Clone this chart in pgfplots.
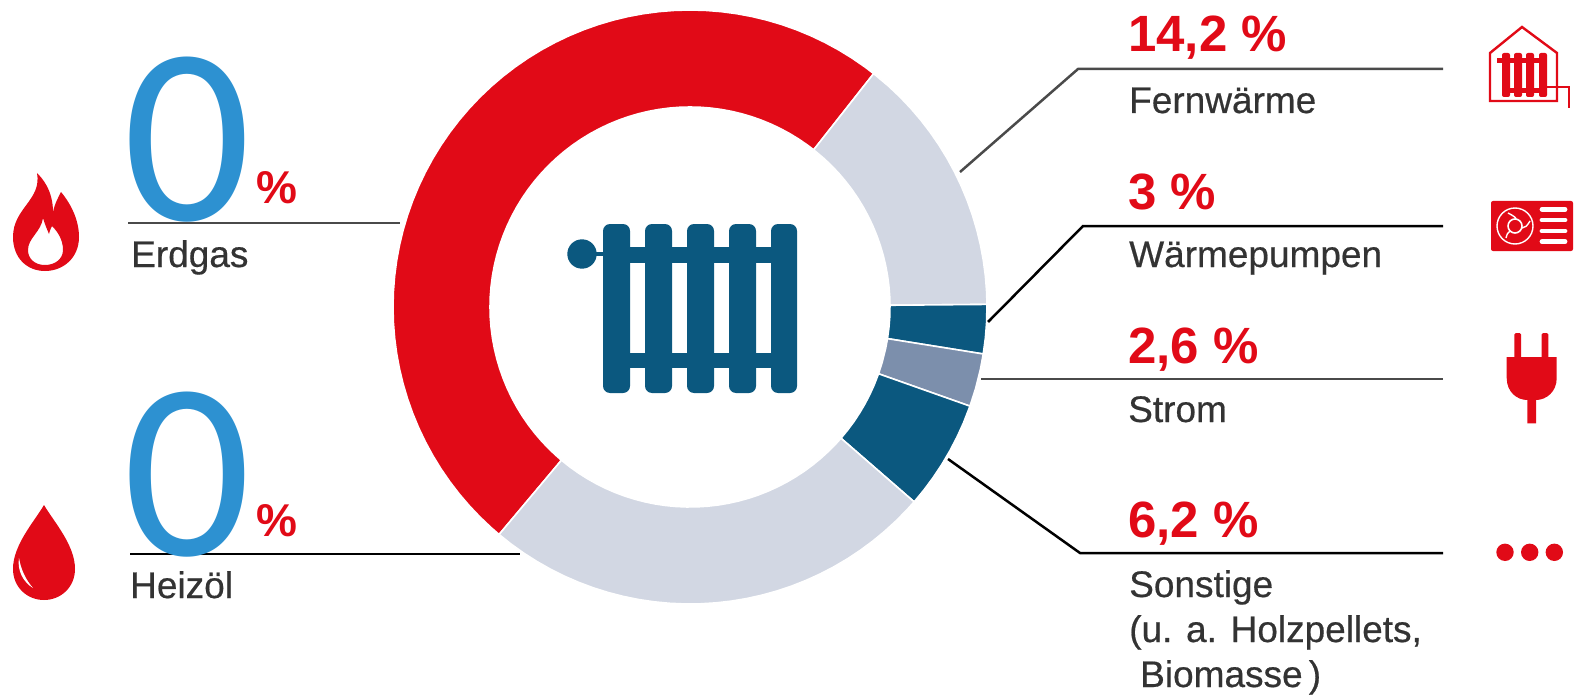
\documentclass[border=0pt]{standalone}
\usepackage{fontspec}
\usepackage{pgfplots}
\pgfplotsset{compat=1.18}
\usepgfplotslibrary{polar}
\setmainfont{Liberation Sans}
\newfontfamily\zerofont{Carlito}
\newfontfamily\namefont[FakeBold=0.5]{Liberation Sans}
\definecolor{rot}{HTML}{E10A17}
\definecolor{hell}{HTML}{D2D7E3}
\definecolor{dunkel}{HTML}{0B587F}
\definecolor{mittel}{HTML}{7C8FAC}
\definecolor{nullblau}{HTML}{2D91D1}
\definecolor{textgrau}{HTML}{333333}
\definecolor{linie}{HTML}{4A4A4A}
\newcommand{\wert}[3]{\node[anchor=base west,inner sep=0pt,text=rot,font=\fontsize{51}{51}\selectfont\bfseries] at (axis cs:#1,#2) {#3};}
\newcommand{\name}[3]{\node[anchor=base west,inner sep=0pt,text=textgrau,font=\namefont\fontsize{37}{37}\selectfont] at (axis cs:#1,#2) {#3};}
\begin{document}
\begin{tikzpicture}
  \path[use as bounding box] (0,0) rectangle (1579pt,695pt);
  % ring: (angle, radius)
  \begin{polaraxis}[
      at={(393pt,91pt)}, anchor=south west,
      scale only axis, width=594pt, height=594pt,
      xmin=0, xmax=360, ymin=0, ymax=297,
      hide axis, clip=false,
      every axis plot/.append style={no markers, sharp plot, draw=white, line width=1.6pt},
  ]
  % Erdgas
  \addplot[fill=rot] coordinates {
    (51.8,297)(54,297)(57,297)(60,297)(63,297)(66,297)(69,297)(72,297)(75,297)(78,297)(81,297)(84,297)(87,297)(90,297)
    (93,297)(96,297)(99,297)(102,297)(105,297)(108,297)(111,297)(114,297)(117,297)(120,297)(123,297)(126,297)(129,297)
    (132,297)(135,297)(138,297)(141,297)(144,297)(147,297)(150,297)(153,297)(156,297)(159,297)(162,297)(165,297)
    (168,297)(171,297)(174,297)(177,297)(180,297)(183,297)(186,297)(189,297)(192,297)(195,297)(198,297)(201,297)
    (204,297)(207,297)(210,297)(213,297)(216,297)(219,297)(222,297)(225,297)(228,297)(230,297)
    (230,200)(228,200)(225,200)(222,200)(219,200)(216,200)(213,200)(210,200)(207,200)(204,200)(201,200)(198,200)
    (195,200)(192,200)(189,200)(186,200)(183,200)(180,200)(177,200)(174,200)(171,200)(168,200)(165,200)(162,200)
    (159,200)(156,200)(153,200)(150,200)(147,200)(144,200)(141,200)(138,200)(135,200)(132,200)(129,200)(126,200)
    (123,200)(120,200)(117,200)(114,200)(111,200)(108,200)(105,200)(102,200)(99,200)(96,200)(93,200)(90,200)
    (87,200)(84,200)(81,200)(78,200)(75,200)(72,200)(69,200)(66,200)(63,200)(60,200)(57,200)(54,200)(51.8,200)
  } -- cycle;
  % Fernwaerme
  \addplot[fill=hell] coordinates {
    (0.5,297)(3,297)(6,297)(9,297)(12,297)(15,297)(18,297)(21,297)(24,297)(27,297)(30,297)(33,297)(36,297)(39,297)
    (42,297)(45,297)(48,297)(51.8,297)
    (51.8,200)(48,200)(45,200)(42,200)(39,200)(36,200)(33,200)(30,200)(27,200)(24,200)(21,200)(18,200)(15,200)
    (12,200)(9,200)(6,200)(3,200)(0.5,200)
  } -- cycle;
  % Waermepumpen
  \addplot[fill=dunkel] coordinates {
    (-9.1,297)(-6,297)(-3,297)(0.5,297)(0.5,200)(-3,200)(-6,200)(-9.1,200)
  } -- cycle;
  % Strom
  \addplot[fill=mittel] coordinates {
    (-19.5,297)(-16,297)(-12,297)(-9.1,297)(-9.1,200)(-12,200)(-16,200)(-19.5,200)
  } -- cycle;
  % Sonstige
  \addplot[fill=dunkel] coordinates {
    (-41,297)(-38,297)(-35,297)(-32,297)(-29,297)(-26,297)(-23,297)(-19.5,297)
    (-19.5,200)(-23,200)(-26,200)(-29,200)(-32,200)(-35,200)(-38,200)(-41,200)
  } -- cycle;
  % Heizoel
  \addplot[fill=hell] coordinates {
    (230,297)(233,297)(236,297)(239,297)(242,297)(245,297)(248,297)(251,297)(254,297)(257,297)(260,297)(263,297)
    (266,297)(269,297)(272,297)(275,297)(278,297)(281,297)(284,297)(287,297)(290,297)(293,297)(296,297)(299,297)
    (302,297)(305,297)(308,297)(311,297)(314,297)(317,297)(319,297)
    (319,200)(317,200)(314,200)(311,200)(308,200)(305,200)(302,200)(299,200)(296,200)(293,200)(290,200)(287,200)
    (284,200)(281,200)(278,200)(275,200)(272,200)(269,200)(266,200)(263,200)(260,200)(257,200)(254,200)(251,200)
    (248,200)(245,200)(242,200)(239,200)(236,200)(233,200)(230,200)
  } -- cycle;
  \end{polaraxis}

  \begin{axis}[
      at={(0pt,0pt)}, anchor=south west,
      scale only axis, width=1579pt, height=695pt,
      xmin=0, xmax=1579, ymin=0, ymax=695, y dir=reverse,
      hide axis, clip=false,
      cycle list={{color=linie,solid}},
      every axis plot/.append style={no markers, line width=2.5pt},
  ]
  % leader lines
  \addplot coordinates {(128,223)(400,223)};
  \addplot coordinates {(130,554)(520,554)};
  \addplot coordinates {(960,172)(1078,69)(1443,69)};
  \addplot coordinates {(988,322)(1083,226)(1443,226)};
  \addplot coordinates {(981,379)(1443,379)};
  \addplot coordinates {(948,459)(1080,553)(1443,553)};

  % big zeros and small percent signs
  \node[anchor=base west,inner sep=0pt,text depth=0pt,text=nullblau,font=\zerofont\fontsize{252}{252}\selectfont] at (axis cs:123,220) {0};
  \node[anchor=base west,inner sep=0pt,text depth=0pt,text=nullblau,font=\zerofont\fontsize{252}{252}\selectfont] at (axis cs:123,555) {0};
  \node[anchor=base west,inner sep=0pt,text=rot,font=\fontsize{46}{46}\selectfont\bfseries] at (axis cs:256,204) {\%};
  \node[anchor=base west,inner sep=0pt,text=rot,font=\fontsize{46}{46}\selectfont\bfseries] at (axis cs:256,536) {\%};

  \name{131}{267}{Erdgas}
  \name{130}{598}{Heizöl}

  \wert{1128}{52}{14,2 \%}
  \wert{1128}{210}{3 \%}
  \wert{1128}{363}{2,6 \%}
  \wert{1128}{537}{6,2 \%}
  \name{1129}{113}{Fernwärme}
  \name{1129}{267}{Wärmepumpen}
  \name{1128}{422}{Strom}
  \name{1129}{597}{Sonstige}
  \name{1129}{642}{(u. a. Holzpellets,}
  \name{1140}{687}{Biomasse\,)}

  % icons, in picture pixels
  \begin{scope}[shift={(axis cs:0,0)}, x=1pt, y=-1pt]
    % radiator in the middle
    \fill[dunkel,rounded corners=7pt] (603,224) rectangle (630,393);
    \fill[dunkel,rounded corners=7pt] (645,224) rectangle (672,393);
    \fill[dunkel,rounded corners=7pt] (687,224) rectangle (714,393);
    \fill[dunkel,rounded corners=7pt] (729,224) rectangle (756,393);
    \fill[dunkel,rounded corners=7pt] (771,224) rectangle (797,393);
    \fill[dunkel] (610,247) rectangle (790,263);
    \fill[dunkel] (610,353) rectangle (790,368);
    \fill[dunkel] (582,252) rectangle (606,256);
    \fill[dunkel] (582,254) circle (14.7);
    % flame
    \fill[rot,even odd rule] (37,173) .. controls (42,178) and (53,190) .. (53,212)
      .. controls (55,203) and (58,198) .. (61,192)
      .. controls (71,204) and (79,220) .. (79,237)
      .. controls (79,258) and (63,271) .. (45,271)
      .. controls (27,271) and (13,258) .. (13,237)
      .. controls (13,208) and (42,200) .. (37,173) -- cycle
      (43,218) .. controls (45,225) and (47,229) .. (49,234)
      .. controls (50,230) and (51,228) .. (52,226)
      .. controls (58,232) and (63,240) .. (63,250)
      .. controls (63,259) and (55,265) .. (45,265)
      .. controls (35,265) and (28,259) .. (28,250)
      .. controls (28,238) and (41,232) .. (43,218) -- cycle;
    % drop
    \fill[rot] (44,505) .. controls (34,522) and (13,545) .. (13,569)
      .. controls (13,587) and (27,600) .. (44,600)
      .. controls (61,600) and (75,587) .. (75,569)
      .. controls (75,545) and (54,522) .. (44,505) -- cycle;
    \fill[white] (19,558) .. controls (17,570) and (23,582) .. (33,588)
      .. controls (26,580) and (21,570) .. (19,558) -- cycle;
    % house with radiator
    \draw[rot,line width=2.4pt,line join=miter] (1490,101) -- (1490,53) -- (1522,27) -- (1557,53) -- (1557,101) -- cycle;
    \draw[rot,line width=2.4pt] (1540,87) -- (1569,87) -- (1569,108);
    \fill[rot,rounded corners=2pt] (1502,53) rectangle (1510,97);
    \fill[rot,rounded corners=2pt] (1514,53) rectangle (1522,97);
    \fill[rot,rounded corners=2pt] (1526,53) rectangle (1534,97);
    \fill[rot,rounded corners=2pt] (1539,53) rectangle (1547,97);
    \fill[rot] (1497,58) rectangle (1547,63);
    \fill[rot] (1502,88) rectangle (1547,93);
    % heat pump
    \fill[rot,rounded corners=2pt] (1491,201) rectangle (1573,251);
    \draw[white,line width=1.4pt] (1515,226) circle (18);
    \draw[white,line width=1.6pt] (1515,226) circle (7);
    \draw[white,line width=1.4pt] (1508,213) .. controls (1514,216) and (1516,218) .. (1516,219);
    \draw[white,line width=1.4pt] (1530,221) .. controls (1527,226) and (1525,228) .. (1522,228);
    \draw[white,line width=1.4pt] (1506,238) .. controls (1507,234) and (1508,232) .. (1510,231);
    \draw[white,line width=4.8pt,line cap=round] (1542,209.3) -- (1565,209.3);
    \draw[white,line width=4.8pt,line cap=round] (1542,220) -- (1565,220);
    \draw[white,line width=4.8pt,line cap=round] (1542,231) -- (1565,231);
    \draw[white,line width=4.8pt,line cap=round] (1542,241.7) -- (1565,241.7);
    % plug
    \fill[rot,rounded corners=1.5pt] (1514.3,333) rectangle (1521,360);
    \fill[rot,rounded corners=1.5pt] (1541.7,333) rectangle (1548.3,360);
    \fill[rot] (1506.7,357) -- (1556.7,357) -- (1556.7,378)
      .. controls (1556.7,392) and (1546,400) .. (1536,400) -- (1536,423.3) -- (1527.3,423.3) -- (1527.3,400)
      .. controls (1517,400) and (1506.7,392) .. (1506.7,378) -- cycle;
    % dots
    \fill[rot] (1505,552.3) circle (8.7);
    \fill[rot] (1529.7,552.3) circle (8.7);
    \fill[rot] (1554.3,552.3) circle (8.7);
  \end{scope}
  \end{axis}
\end{tikzpicture}
\end{document}
